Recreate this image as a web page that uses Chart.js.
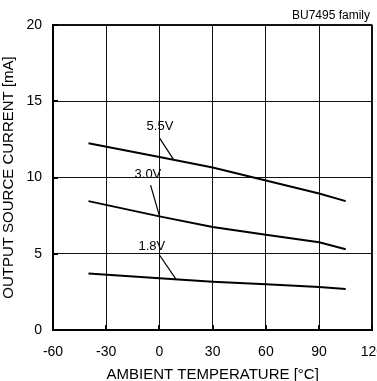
<!DOCTYPE html>
<html>
<head>
<meta charset="utf-8">
<script src="https://cdn.jsdelivr.net/npm/chart.js@4/dist/chart.umd.min.js"></script>
<style>
html,body{margin:0;padding:0;background:#fff;overflow:hidden;width:377px;height:381px;}
canvas{display:block;}
</style>
</head>
<body>
<canvas id="c" width="398" height="381" style="width:398px;height:381px"></canvas>
<script>
// ---- data ----
const temperatures = [-40, 0, 30, 60, 90, 105];
const series55 = [12.25, 11.35, 10.65, 9.8, 8.95, 8.45];
const series30 = [8.45, 7.45, 6.75, 6.25, 5.75, 5.3];
const series18 = [3.7, 3.4, 3.17, 3.0, 2.82, 2.69];
const seriesNames = ['5.5V', '3.0V', '1.8V'];
const xTicks = [-60, -30, 0, 30, 60, 90, 120];
const yTicks = [0, 5, 10, 15, 20];

// annotation labels with leader lines (data units)
const annoLabel = [
  {text: '5.5V', x: 0.3, y: 13.33, from: [0, 12.6], to: [7.8, 11.2]},
  {text: '3.0V', x: -6.5, y: 10.2, from: [-5, 9.5], to: [0, 7.48]},
  {text: '1.8V', x: -4.3, y: 5.45, from: [0, 4.92], to: [9.3, 3.34]}
];

const FONT = '"Liberation Sans", Arial, sans-serif';

const toPts = arr => arr.map((v, i) => ({x: temperatures[i], y: v}));

const extras = {
  id: 'extras',
  afterDraw(chart) {
    const ctx = chart.ctx, xs = chart.scales.x, ys = chart.scales.y;
    const ca = chart.chartArea;
    ctx.save();
    // inward tick marks
    ctx.strokeStyle = '#000';
    ctx.lineWidth = 2;
    xTicks.forEach(t => {
      const px = Math.round(xs.getPixelForValue(t));
      ctx.beginPath(); ctx.moveTo(px, ca.bottom); ctx.lineTo(px, ca.bottom - 5); ctx.stroke();
    });
    yTicks.forEach(t => {
      const py = Math.round(ys.getPixelForValue(t));
      ctx.beginPath(); ctx.moveTo(ca.left, py); ctx.lineTo(ca.left + 5, py); ctx.stroke();
    });
    // annotations
    ctx.lineWidth = 1.2;
    ctx.fillStyle = '#000';
    ctx.font = '13px ' + FONT;
    ctx.textAlign = 'center';
    ctx.textBaseline = 'middle';
    annoLabel.forEach(a => {
      ctx.beginPath();
      ctx.moveTo(xs.getPixelForValue(a.from[0]), ys.getPixelForValue(a.from[1]));
      ctx.lineTo(xs.getPixelForValue(a.to[0]), ys.getPixelForValue(a.to[1]));
      ctx.stroke();
      ctx.fillText(a.text, xs.getPixelForValue(a.x), ys.getPixelForValue(a.y));
    });
    // family note
    ctx.font = '12px ' + FONT;
    ctx.textAlign = 'right';
    ctx.fillText('BU7495 family', 370, 16);
    ctx.restore();
  }
};

new Chart(document.getElementById('c'), {
  type: 'line',
  data: {
    datasets: [series55, series30, series18].map((s, i) => ({
      label: seriesNames[i],
      data: toPts(s),
      borderColor: '#000',
      borderWidth: 2,
      pointRadius: 0,
      tension: 0,
      fill: false
    }))
  },
  options: {
    responsive: false,
    animation: false,
    devicePixelRatio: 1,
    layout: {padding: {top: 25, left: 0, right: 0, bottom: 0}},
    plugins: {legend: {display: false}, tooltip: {enabled: false}},
    scales: {
      x: {
        type: 'linear', min: -60, max: 120,
        afterBuildTicks: s => { s.ticks = xTicks.map(v => ({value: v})); },
        afterFit: s => { s.height = 51; },
        grid: {color: '#111', lineWidth: c => (c.tick && c.tick.value === 120) ? 2 : 1, drawTicks: false},
        border: {color: '#000', width: 2},
        ticks: {color: '#000', font: {family: FONT, size: 14}, padding: 14, maxRotation: 0, autoSkip: false},
        title: {display: true, text: 'AMBIENT TEMPERATURE [°C]', color: '#000', font: {family: FONT, size: 15}, padding: {top: 0, bottom: -3}}
      },
      y: {
        type: 'linear', min: 0, max: 20,
        afterBuildTicks: s => { s.ticks = yTicks.map(v => ({value: v})); },
        afterFit: s => { s.width = 53; },
        grid: {color: '#111', lineWidth: c => (c.tick && c.tick.value === 20) ? 2 : 1, drawTicks: false},
        border: {color: '#000', width: 2},
        ticks: {color: '#000', font: {family: FONT, size: 14}, padding: 11},
        title: {display: true, text: 'OUTPUT SOURCE CURRENT [mA]', color: '#000', font: {family: FONT, size: 15}, padding: {top: 0, bottom: 0}}
      }
    }
  },
  plugins: [extras]
});
</script>
</body>
</html>
